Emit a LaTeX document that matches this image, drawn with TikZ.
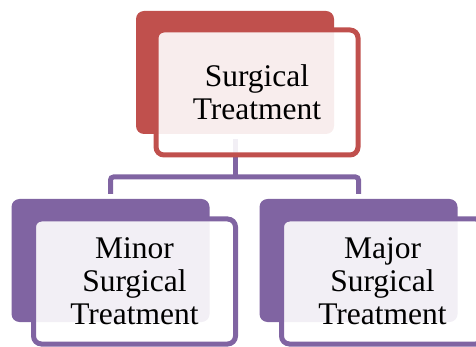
\documentclass[tikz,border=0pt]{standalone}
\usepackage{fontspec}
\setmainfont{Liberation Serif}
\usepackage{tikz}
\usetikzlibrary{positioning,calc}
\definecolor{topred}{HTML}{C0504D}
\definecolor{subpurple}{HTML}{8064A2}

\begin{document}
\begin{tikzpicture}[x=1pt, y=1pt,
  back/.style={rounded corners=8pt, minimum width=198pt, minimum height=123pt,
    inner sep=0pt},
  front/.style={draw, line width=5pt, rounded corners=8pt, minimum width=202pt,
    minimum height=125pt, fill=white, fill opacity=0.9, text opacity=1,
    align=center, font=\fontsize{31.5}{33}\selectfont},
  link/.style={draw=subpurple, line width=5pt, rounded corners=3pt}
]
\useasboundingbox (0,0) rectangle (476,-347);
\node[back, fill=topred] (topback) at (235,-72.5) {};
\node[back, fill=subpurple] (minorback) at (110.5,-260.5) {};
\node[back, fill=subpurple] (majorback) at (358.5,-260.5) {};
\coordinate (split) at (235,-177);
\draw[link, shorten <=5pt] (topback.south) -- (split);
\draw[link, shorten >=5pt] (split) -| (minorback.north);
\draw[link, shorten >=5pt] (split) -| (majorback.north);
\node[front, draw=topred] (topfront) at (257,-92.5) {Surgical\\Treatment};
\node[front, draw=subpurple] (minorfront) at (134.5,-281.5) {Minor\\Surgical\\Treatment};
\node[front, draw=subpurple] (majorfront) at (382.5,-281.5) {Major\\Surgical\\Treatment};
\end{tikzpicture}
\end{document}
